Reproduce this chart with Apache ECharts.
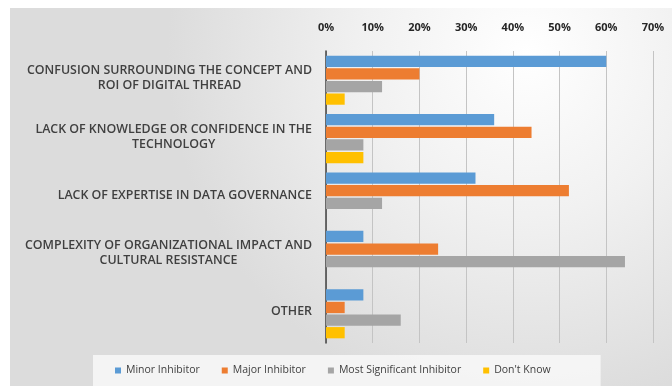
<!DOCTYPE html>
<html>
<head>
<meta charset="utf-8">
<script src="https://cdn.jsdelivr.net/npm/echarts@6/dist/echarts.min.js"></script>
<style>
  html, body { margin: 0; padding: 0; background: #ffffff; }
  #chart { width: 672px; height: 386px; }
</style>
</head>
<body>
<div id="chart"></div>
<script>
// Barriers to digital thread adoption, share of respondents per rating
const categories = [
  'CONFUSION SURROUNDING THE CONCEPT AND\nROI OF DIGITAL THREAD',
  'LACK OF KNOWLEDGE OR CONFIDENCE IN THE\nTECHNOLOGY',
  'LACK OF EXPERTISE IN DATA GOVERNANCE',
  'COMPLEXITY OF ORGANIZATIONAL IMPACT AND\nCULTURAL RESISTANCE',
  'OTHER'
];
const seriesNames = ['Minor Inhibitor', 'Major Inhibitor', 'Most Significant Inhibitor', "Don't Know"];
const minorInhibitor = [60, 36, 32, 8, 8];
const majorInhibitor = [20, 44, 52, 24, 4];
const mostSignificant = [12, 8, 12, 64, 16];
const dontKnow = [4, 8, 0, 0, 4];
const colors = ['#5b9bd5', '#ed7d31', '#a5a5a5', '#ffc000'];

const values = [minorInhibitor, majorInhibitor, mostSignificant, dontKnow];

// Category labels: block right-aligned to the axis, lines centred within the block
const labelFontSize = 12.4;
const measureCtx = document.createElement('canvas').getContext('2d');
measureCtx.font = '600 ' + labelFontSize + 'px "Open Sans"';
const rich = {};
const labelText = categories.map((c, ci) => {
  const lines = c.split('\n');
  const widths = lines.map(l => measureCtx.measureText(l).width);
  const maxW = Math.max(...widths);
  return lines.map((l, li) => {
    const key = 'c' + ci + 'l' + li;
    rich[key] = {
      fontSize: labelFontSize, fontWeight: 600, color: '#404040', fontFamily: 'Open Sans',
      lineHeight: 15, padding: [0, (maxW - widths[li]) / 2, 4, 0]
    };
    return '{' + key + '|' + l + '}';
  }).join('\n');
});

const chart = echarts.init(document.getElementById('chart'));
chart.setOption({
  backgroundColor: '#ffffff',
  textStyle: { fontFamily: 'Open Sans' },
  graphic: [
    {
      type: 'rect', z: -10, silent: true,
      shape: { x: 10, y: 8, width: 662, height: 378 },
      style: {
        fill: {
          type: 'radial', x: 0.78, y: 0.12, r: 0.95,
          colorStops: [
            { offset: 0, color: '#ffffff' },
            { offset: 0.45, color: '#f1f1f1' },
            { offset: 1, color: '#dcdcdc' }
          ]
        }
      }
    }
  ],
  grid: { left: 326, right: 19, top: 51, bottom: 43 },
  legend: {
    bottom: 0,
    left: 93,
    padding: [10, 50, 10, 22],
    backgroundColor: 'rgba(248,248,248,0.85)',
    itemWidth: 6, itemHeight: 6,
    itemGap: 22,
    icon: 'rect',
    textStyle: { fontSize: 10.5, color: '#404040' },
    data: seriesNames
  },
  xAxis: {
    type: 'value',
    position: 'top',
    min: 0, max: 70, interval: 10,
    axisLabel: {
      formatter: '{value}%',
      fontSize: 11, fontWeight: 'bold', color: '#262626', margin: 18
    },
    axisLine: { show: false },
    axisTick: { show: false },
    splitLine: { lineStyle: { color: '#c4c4c4', width: 1 } }
  },
  yAxis: {
    type: 'category',
    inverse: true,
    data: categories,
    axisLine: { show: true, lineStyle: { color: '#404040', width: 1.5 } },
    axisTick: { show: false },
    axisLabel: {
      formatter: (v, i) => labelText[i],
      rich: rich,
      align: 'right', margin: 14
    }
  },
  series: values.map((v, i) => ({
    name: seriesNames[i],
    type: 'bar',
    data: v,
    barGap: '12%',
    barCategoryGap: '16%',
    itemStyle: { color: colors[i] }
  }))
});
</script>
</body>
</html>
